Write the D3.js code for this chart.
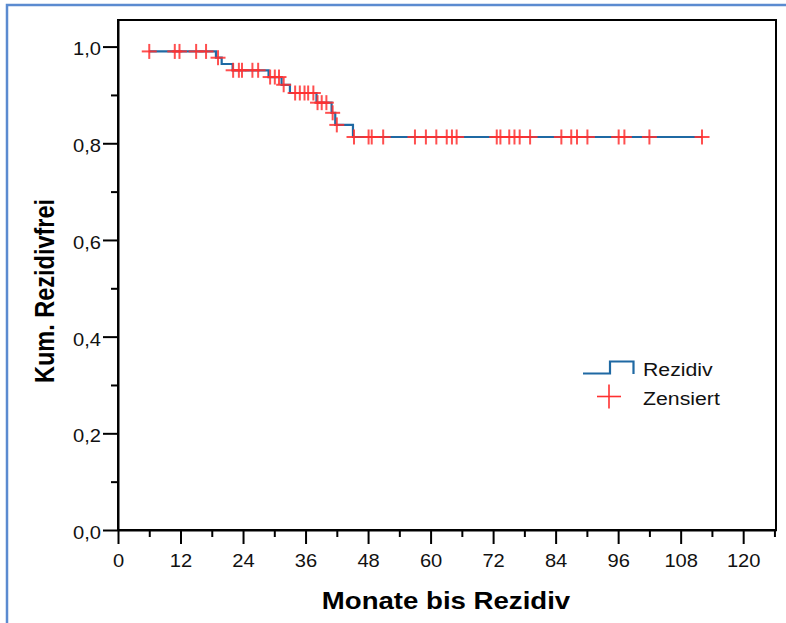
<!DOCTYPE html>
<html>
<head>
<meta charset="utf-8">
<script src="https://cdn.jsdelivr.net/npm/d3@7"></script>
<style>
  body { margin: 0; background: #fff; }
  svg { display: block; font-family: "Liberation Sans", Arial, sans-serif; }
</style>
</head>
<body>
<svg id="km" width="786" height="623"></svg>
<script>
"use strict";

// Kaplan-Meier steps (Monate, Kum. Rezidivfrei)
const startTime = 6.0;
const endTime = 112.1;
const eventTimes = [18.8, 19.9, 22.0, 28.9, 31.4, 33.0, 38.1, 41.0, 41.7, 45.1];
const survLevels = [0.990, 0.977, 0.964, 0.951, 0.937, 0.921, 0.904, 0.884, 0.863, 0.838, 0.813];
const censorTimes = [6.0, 10.9, 11.8, 15.0, 16.9, 19.2, 22.1, 23.2, 23.8, 25.8, 26.9,
                     29.2, 30.1, 30.9, 31.8, 34.0, 34.9, 35.8, 36.5, 37.5, 38.3, 39.1,
                     40.0, 41.2, 42.0, 45.3, 48.1, 48.7, 50.9, 57.0, 59.1, 61.1, 63.1,
                     64.1, 65.0, 72.7, 73.4, 75.1, 76.1, 77.1, 79.1, 85.1, 87.0, 88.1,
                     90.1, 96.1, 97.2, 102.0, 112.1];
const xTicks = [0, 12, 24, 36, 48, 60, 72, 84, 96, 108, 120];
const xMinorTicks = [6, 18, 30, 42, 54, 66, 78, 90, 102, 114, 126];
const yTicks = [0, 0.2, 0.4, 0.6, 0.8, 1.0];
const yMinorTicks = [0.1, 0.3, 0.5, 0.7, 0.9];
const legendLabels = ["Rezidiv", "Zensiert"];

const blue = "#1f69a3";
const red = "#ff3030";
const stretch = 1.15;

const plotLeft = 118, plotTop = 20, plotRight = 776, plotBottom = 530;

const svg = d3.select("svg#km");

// outer blue frame
svg.append("rect")
    .attr("x", 7).attr("y", 5)
    .attr("width", 800).attr("height", 640)
    .attr("fill", "none")
    .attr("stroke", "#5b8bd0")
    .attr("stroke-width", 2.5);

const xScale = d3.scaleLinear().domain([0, 126.3]).range([plotLeft, plotRight]);
const yScale = d3.scaleLinear().domain([0, 1.055]).range([plotBottom, plotTop]);

// plot frame
svg.append("rect")
    .attr("x", plotLeft).attr("y", plotTop)
    .attr("width", plotRight - plotLeft).attr("height", plotBottom - plotTop)
    .attr("fill", "none")
    .attr("stroke", "black")
    .attr("stroke-width", 2);

const comma = d => d3.format(".1f")(d).replace(".", ",");

function styleAxis(g) {
    g.select(".domain").attr("stroke-width", 2);
    g.selectAll(".tick line").attr("stroke-width", 2);
    g.selectAll("text").attr("fill", "#111").style("font-size", "17.5px");
}

// x axis
const gx = svg.append("g")
    .attr("transform", `translate(0,${plotBottom})`)
    .call(d3.axisBottom(xScale).tickValues(xTicks).tickSize(14).tickSizeOuter(0));
styleAxis(gx);
gx.selectAll("text")
    .attr("y", 25)
    .attr("transform", `scale(${stretch},1)`);

svg.append("g")
    .attr("transform", `translate(0,${plotBottom})`)
    .call(d3.axisBottom(xScale).tickValues(xMinorTicks).tickSize(7).tickSizeOuter(0).tickFormat(""))
    .call(g => { g.select(".domain").remove(); g.selectAll(".tick line").attr("stroke-width", 2); });

// y axis
const gy = svg.append("g")
    .attr("transform", `translate(${plotLeft},0)`)
    .call(d3.axisLeft(yScale).tickValues(yTicks).tickSize(15).tickSizeOuter(0).tickFormat(comma));
styleAxis(gy);
gy.selectAll("text")
    .attr("x", -17 / stretch)
    .attr("dy", "0.48em")
    .attr("transform", `scale(${stretch},1)`);

svg.append("g")
    .attr("transform", `translate(${plotLeft},0)`)
    .call(d3.axisLeft(yScale).tickValues(yMinorTicks).tickSize(7).tickSizeOuter(0).tickFormat(""))
    .call(g => { g.select(".domain").remove(); g.selectAll(".tick line").attr("stroke-width", 2); });

// survival curve
const steps = [{t: startTime, s: survLevels[0]}];
eventTimes.forEach((t, i) => steps.push({t: t, s: survLevels[i + 1]}));
steps.push({t: endTime, s: survLevels[survLevels.length - 1]});

const line = d3.line()
    .x(d => xScale(d.t))
    .y(d => yScale(d.s))
    .curve(d3.curveStepAfter);

svg.append("path")
    .datum(steps)
    .attr("d", line)
    .attr("fill", "none")
    .attr("stroke", blue)
    .attr("stroke-width", 2.2);

function levelAt(t) {
    let s = survLevels[0];
    eventTimes.forEach((e, i) => { if (t >= e) s = survLevels[i + 1]; });
    return s;
}

function cross(g, size) {
    g.append("line").attr("x1", -size / 2).attr("x2", size / 2).attr("y1", 0).attr("y2", 0);
    g.append("line").attr("x1", 0).attr("x2", 0).attr("y1", -size / 2).attr("y2", size / 2);
}

svg.append("g")
    .attr("stroke", red)
    .attr("stroke-width", 2)
    .attr("stroke-opacity", 0.85)
    .selectAll("g")
    .data(censorTimes)
    .join("g")
    .attr("transform", t => `translate(${xScale(t)},${yScale(levelAt(t))})`)
    .each(function() { cross(d3.select(this), 15); });

// legend
const legend = svg.append("g");
legend.append("path")
    .attr("d", "M583,373.5H610V361.5H633.5V374")
    .attr("fill", "none")
    .attr("stroke", blue)
    .attr("stroke-width", 2.2);
const lc = legend.append("g")
    .attr("transform", "translate(609,396.5)")
    .attr("stroke", red)
    .attr("stroke-width", 1.6);
cross(lc, 24);

legend.selectAll("text")
    .data(legendLabels)
    .join("text")
    .attr("transform", (d, i) => `translate(643,${376 + i * 29}) scale(${stretch},1)`)
    .style("font-size", "18.5px")
    .attr("fill", "#111")
    .text(d => d);

// titles
svg.append("text")
    .attr("transform", `translate(446,609) scale(${stretch},1)`)
    .attr("text-anchor", "middle")
    .style("font-size", "24px")
    .style("font-weight", "bold")
    .text("Monate bis Rezidiv");

svg.append("text")
    .attr("transform", `translate(54,291) rotate(-90) scale(1,${stretch})`)
    .attr("text-anchor", "middle")
    .style("font-size", "23.5px")
    .style("font-weight", "bold")
    .text("Kum. Rezidivfrei");
</script>
</body>
</html>
